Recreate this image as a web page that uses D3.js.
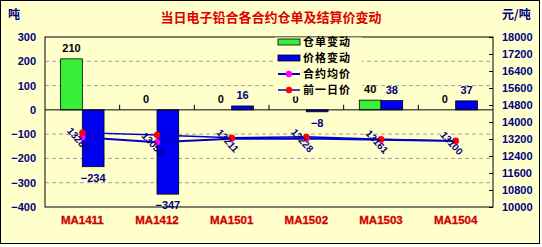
<!DOCTYPE html>
<html>
<head>
<meta charset="utf-8">
<script src="https://cdn.jsdelivr.net/npm/d3@7"></script>
<style>
  body { margin: 0; background: #fff; }
  svg { display: block; font-family: "Liberation Sans", Arial, sans-serif; font-weight: bold; }
</style>
</head>
<body>
<svg id="chart" width="542" height="247"></svg>
<script>
const categories = ["MA1411", "MA1412", "MA1501", "MA1502", "MA1503", "MA1504"];
const warrantChange = [210, 0, 0, 0, 40, 0];
const priceChange = [-234, -347, 16, -8, 38, 37];
const avgPrice = [13280, 13050, 13211, 13228, 13161, 13100];
const prevPrice = [13500, 13390, 13260, 13300, 13190, 13120];
const leftTicks = [300, 200, 100, 0, -100, -200, -300, -400];
const rightTicks = [18000, 17200, 16400, 15600, 14800, 14000, 13200, 12400, 11600, 10800, 10000];
const legendNames = ["仓单变动", "价格变动", "合约均价", "前一日价"];

const bg = "#FFFFCC";
const navy = "#000080";
const L = 45, R = 493, T = 37, B = 207;

const svg = d3.select("#chart");

// outer frame
svg.append("rect").attr("x", 0.5).attr("y", 0.5).attr("width", 539).attr("height", 243)
  .attr("fill", bg).attr("stroke", "#000");

const x = d3.scaleBand().domain(categories).range([L, R]);
const yL = d3.scaleLinear().domain([-400, 300]).range([B, T]);
const yR = d3.scaleLinear().domain([10000, 18000]).range([B, T]);
const cx = d => x(d) + x.bandwidth() / 2;
const bw = 21.7;

// gridlines
svg.append("g").selectAll("line")
  .data(leftTicks.filter(t => t !== 300 && t !== -400 && t !== 0))
  .join("line")
  .attr("x1", L).attr("x2", R)
  .attr("y1", d => yL(d)).attr("y2", d => yL(d))
  .attr("stroke", "#a0a0a0").attr("stroke-dasharray", "4,3");

// plot border
svg.append("rect").attr("x", L).attr("y", T).attr("width", R - L).attr("height", B - T)
  .attr("fill", "none").attr("stroke", "#000");

// left axis labels
svg.append("g").selectAll("text").data(leftTicks).join("text")
  .attr("x", 36).attr("y", d => yL(d) + 4)
  .attr("text-anchor", "end").attr("font-size", 11).attr("fill", navy)
  .text(d => d < 0 ? "\u2212" + Math.abs(d) : d);

// right axis
const axR = d3.axisRight(yR).tickValues(rightTicks).tickFormat(d3.format("d")).tickSize(-4).tickPadding(9);
const gR = svg.append("g").attr("transform", `translate(${R},0)`).call(axR);
gR.select(".domain").remove();
gR.selectAll("line").attr("stroke", "#000");
gR.selectAll("text").attr("font-size", 11).attr("fill", navy)
  .attr("font-family", "Liberation Sans, Arial").attr("font-weight", "bold");

// bars
const gBars = svg.append("g");
gBars.selectAll(".w").data(categories).join("rect").attr("class", "w")
  .attr("x", d => cx(d) - bw).attr("width", bw)
  .attr("y", (d, i) => yL(Math.max(0, warrantChange[i])))
  .attr("height", (d, i) => Math.abs(yL(warrantChange[i]) - yL(0)))
  .attr("fill", "#38F038").attr("stroke", "#000").attr("stroke-width", 0.8);
gBars.selectAll(".p").data(categories).join("rect").attr("class", "p")
  .attr("x", d => cx(d)).attr("width", bw)
  .attr("y", (d, i) => yL(Math.max(0, priceChange[i])))
  .attr("height", (d, i) => Math.abs(yL(priceChange[i]) - yL(0)))
  .attr("fill", "#0000F0").attr("stroke", "#000").attr("stroke-width", 0.8);

// zero axis + category ticks
svg.append("line").attr("x1", L).attr("x2", R).attr("y1", yL(0)).attr("y2", yL(0)).attr("stroke", "#000");
svg.append("g").selectAll("line").data(categories.slice(1)).join("line")
  .attr("x1", d => x(d)).attr("x2", d => x(d))
  .attr("y1", yL(0)).attr("y2", yL(0) - 5).attr("stroke", "#000");

// category labels
svg.append("g").selectAll("text").data(categories).join("text")
  .attr("x", d => cx(d)).attr("y", 224).attr("text-anchor", "middle")
  .attr("font-size", 11.5).attr("fill", "#D00000").attr("stroke", "#D00000").attr("stroke-width", 0.3)
  .text(d => d);

// lines
const lineGen = arr => d3.line().x((d, i) => cx(categories[i])).y(d => yR(d))(arr);
svg.append("path").attr("d", lineGen(avgPrice)).attr("fill", "none").attr("stroke", "#0000CC").attr("stroke-width", 2);
svg.append("path").attr("d", lineGen(prevPrice)).attr("fill", "none").attr("stroke", "#0000CC").attr("stroke-width", 1.5);
svg.append("g").selectAll("circle").data(avgPrice).join("circle")
  .attr("cx", (d, i) => cx(categories[i])).attr("cy", d => yR(d)).attr("r", 3.2).attr("fill", "#FF00FF");
svg.append("g").selectAll("circle").data(prevPrice).join("circle")
  .attr("cx", (d, i) => cx(categories[i])).attr("cy", d => yR(d)).attr("r", 3.2).attr("fill", "#FF0000");

// rotated price labels
svg.append("g").selectAll("text").data(avgPrice).join("text")
  .attr("transform", (d, i) => `translate(${cx(categories[i]) - 4},${yR(d) + 2}) rotate(48)`)
  .attr("text-anchor", "middle").attr("dy", "0.35em")
  .attr("font-size", 10).attr("fill", navy).text(d => d);

// bar value labels
const fmt = v => v < 0 ? "\u2212" + Math.abs(v) : String(v);
svg.append("g").selectAll("text").data(warrantChange).join("text")
  .attr("x", (d, i) => cx(categories[i]) - bw / 2)
  .attr("y", d => d >= 0 ? yL(d) - 7 : yL(d) + 15)
  .attr("text-anchor", "middle").attr("font-size", 11).attr("fill", "#000").text(fmt);
svg.append("g").selectAll("text").data(priceChange).join("text")
  .attr("x", (d, i) => cx(categories[i]) + bw / 2)
  .attr("y", d => d >= 0 ? yL(d) - 7 : yL(d) + 15)
  .attr("text-anchor", "middle").attr("font-size", 11).attr("fill", navy).text(fmt);

// legend
const lg = svg.append("g");
lg.append("rect").attr("x", 275).attr("y", T + 0.5).attr("width", 87).attr("height", 59).attr("fill", bg);
const ly = [42, 58, 74, 90];
lg.append("rect").attr("x", 278).attr("y", ly[0] - 3).attr("width", 22).attr("height", 6)
  .attr("fill", "#38F038").attr("stroke", "#000").attr("stroke-width", 0.8);
lg.append("rect").attr("x", 278).attr("y", ly[1] - 3).attr("width", 22).attr("height", 6)
  .attr("fill", "#0000F0").attr("stroke", "#000").attr("stroke-width", 0.8);
lg.append("line").attr("x1", 278).attr("x2", 300).attr("y1", ly[2]).attr("y2", ly[2]).attr("stroke", "#0000CC").attr("stroke-width", 2);
lg.append("circle").attr("cx", 289).attr("cy", ly[2]).attr("r", 3.2).attr("fill", "#FF00FF");
lg.append("line").attr("x1", 278).attr("x2", 300).attr("y1", ly[3]).attr("y2", ly[3]).attr("stroke", "#0000CC").attr("stroke-width", 1.5);
lg.append("circle").attr("cx", 289).attr("cy", ly[3]).attr("r", 3.2).attr("fill", "#FF0000");
lg.selectAll("text").data(legendNames).join("text")
  .attr("x", 303).attr("y", (d, i) => ly[i]).attr("dy", "0.36em")
  .attr("font-size", 11).attr("letter-spacing", 1).attr("fill", "#000")
  .attr("font-family", "Noto Sans CJK SC, sans-serif").text(d => d);

// titles
svg.append("text").attr("x", 271).attr("y", 22).attr("text-anchor", "middle")
  .attr("font-size", 13).attr("fill", "#E00000")
  .attr("font-family", "Noto Sans CJK SC, sans-serif")
  .text("当日电子铅合各合约仓单及结算价变动");
svg.append("text").attr("x", 8).attr("y", 19).attr("font-size", 12).attr("fill", navy)
  .attr("font-family", "Noto Sans CJK SC, sans-serif").text("吨");
svg.append("text").attr("x", 502).attr("y", 19).attr("font-size", 12).attr("fill", navy)
  .attr("font-family", "Noto Sans CJK SC, sans-serif").text("元/吨");
</script>
</body>
</html>
